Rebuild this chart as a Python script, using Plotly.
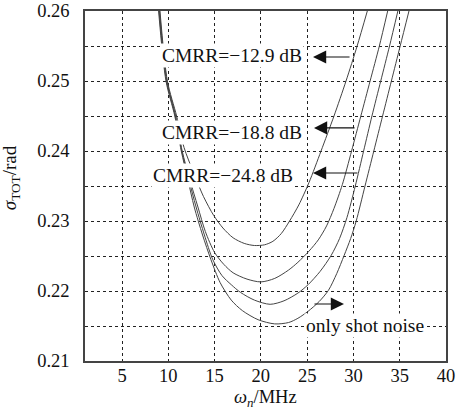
import plotly.graph_objects as go

# ---- data ----
series_names = ["CMRR=−12.9 dB", "CMRR=−18.8 dB", "CMRR=−24.8 dB", "only shot noise"]

c1_x = [9.1, 9.9, 10.9, 11.7, 12.7, 13.8, 14.9, 15.9, 17.0, 18.2, 19.3, 20.4, 21.3, 22.2, 23.1, 24.1, 25.2, 26.5, 27.9, 29.2, 30.4, 31.5]
c1_y = [0.260, 0.250, 0.245, 0.2405, 0.237, 0.2335, 0.2308, 0.2290, 0.2276, 0.2268, 0.2265, 0.2266, 0.2271, 0.2282, 0.2300, 0.2323, 0.2355, 0.2400, 0.2450, 0.2500, 0.2550, 0.2600]

c2_x = [9.05, 9.85, 10.8, 11.5, 12.3, 13.2, 14.0, 15.0, 16.0, 17.0, 18.5, 20.0, 21.5, 23.0, 24.0, 25.2, 26.2, 27.1, 27.9, 28.8, 29.8, 30.8, 31.8, 32.8, 33.7]
c2_y = [0.260, 0.250, 0.245, 0.240, 0.236, 0.232, 0.2285, 0.2255, 0.2238, 0.2226, 0.2217, 0.2213, 0.2218, 0.2230, 0.2241, 0.2257, 0.2273, 0.2293, 0.2318, 0.2352, 0.2400, 0.2450, 0.2500, 0.2550, 0.2600]

c3_x = [9.0, 9.8, 10.75, 11.45, 12.2, 13.0, 13.9, 14.8, 15.8, 16.8, 17.8, 19.3, 21.0, 22.5, 24.0, 25.1, 26.4, 27.6, 28.5, 29.3, 30.2, 31.1, 32.0, 32.95, 33.9, 34.8]
c3_y = [0.260, 0.250, 0.245, 0.240, 0.236, 0.232, 0.228, 0.2245, 0.2222, 0.2209, 0.2198, 0.2187, 0.2181, 0.2186, 0.2197, 0.2209, 0.2228, 0.2251, 0.2275, 0.2305, 0.2350, 0.2400, 0.2450, 0.2500, 0.2550, 0.2600]

c4_x = [8.95, 9.75, 10.7, 11.4, 12.1, 12.8, 13.7, 14.6, 15.6, 16.8, 18.0, 19.7, 21.5, 23.0, 24.0, 25.1, 26.3, 27.3, 28.2, 29.0, 29.7, 30.3, 31.25, 32.2, 33.15, 34.1, 35.05, 36.0]
c4_y = [0.260, 0.250, 0.245, 0.240, 0.236, 0.232, 0.228, 0.2245, 0.2212, 0.2187, 0.2172, 0.2159, 0.2153, 0.2155, 0.2161, 0.2171, 0.2185, 0.2201, 0.2225, 0.2251, 0.2275, 0.2300, 0.2350, 0.2400, 0.2450, 0.2500, 0.2550, 0.2600]

x_tick_vals = [5, 10, 15, 20, 25, 30, 35, 40]
x_tick_text = ["5", "10", "15", "20", "25", "30", "35", "40"]
y_tick_vals = [0.21, 0.215, 0.22, 0.225, 0.23, 0.235, 0.24, 0.245, 0.25, 0.255, 0.26]
y_tick_text = ["0.21", "", "0.22", "", "0.23", "", "0.24", "", "0.25", "", "0.26"]

# label positions (data coords): text centre, arrow head, arrow tail
label_text = series_names
label_pos = [(16.88, 0.25371), (16.88, 0.24271), (15.91, 0.23657), (31.25, 0.21514)]
arrow_head = [(25.63, 0.25343), (25.74, 0.24329), (25.63, 0.23686), (28.98, 0.21814)]
arrow_tail = [(29.74, 0.25343), (30.28, 0.24329), (30.60, 0.23686), (25.63, 0.21814)]

FONT = "Liberation Serif"
line_col = "#444444"

fig = go.Figure()
for xs, ys, nm in zip([c1_x, c2_x, c3_x, c4_x], [c1_y, c2_y, c3_y, c4_y], series_names):
    fig.add_trace(go.Scatter(x=xs, y=ys, mode="lines", name=nm,
                             line=dict(color=line_col, width=1, shape="spline", smoothing=0.8),
                             showlegend=False, hoverinfo="skip"))

annotations = []
for (hx, hy), (tx, ty) in zip(arrow_head, arrow_tail):
    annotations.append(dict(x=hx, y=hy, ax=tx, ay=ty, xref="x", yref="y", axref="x", ayref="y",
                            text="", showarrow=True, arrowhead=2, arrowsize=2.2, arrowwidth=1.2,
                            arrowcolor="#111"))
for t, (px, py) in zip(label_text, label_pos):
    annotations.append(dict(x=px, y=py, xref="x", yref="y", text=t, showarrow=False,
                            font=dict(family=FONT, size=19.5, color="#111"),
                            bgcolor="white", borderpad=1, xanchor="center", yanchor="middle"))
# axis titles
annotations.append(dict(x=0.5, y=-0.106, xref="paper", yref="paper", yanchor="middle",
                        text="<i>ω</i><sub><i>n</i></sub>/MHz", showarrow=False,
                        font=dict(family=FONT, size=18.5, color="#111")))
annotations.append(dict(x=-0.205, y=0.525, xref="paper", yref="paper", textangle=-90,
                        xanchor="center", yanchor="middle",
                        text="<i>σ</i><sub>TOT</sub>/rad", showarrow=False,
                        font=dict(family=FONT, size=19, color="#111")))

fig.update_layout(
    width=462, height=411,
    margin=dict(l=85, r=16, t=11, b=50, autoexpand=False),
    paper_bgcolor="white", plot_bgcolor="white",
    font=dict(family=FONT, size=18.5, color="#111"),
    annotations=annotations,
)
fig.update_xaxes(range=[1, 40], tickvals=x_tick_vals, ticktext=x_tick_text, automargin=False,
                 showgrid=True, gridcolor="#222", gridwidth=1, griddash="3px,3px",
                 showline=True, linecolor="#444", linewidth=1.5, mirror=True,
                 ticks="", ticklabelstandoff=-3, zeroline=False)
fig.update_yaxes(range=[0.21, 0.26], tickvals=y_tick_vals, ticktext=y_tick_text, automargin=False,
                 showgrid=True, gridcolor="#222", gridwidth=1, griddash="3px,3px",
                 showline=True, linecolor="#444", linewidth=1.5, mirror=True,
                 ticks="outside", ticklen=10, tickcolor="rgba(0,0,0,0)", zeroline=False)

fig.write_html("out.html", config={"displayModeBar": False},
               post_script="document.body.style.margin='0';")
